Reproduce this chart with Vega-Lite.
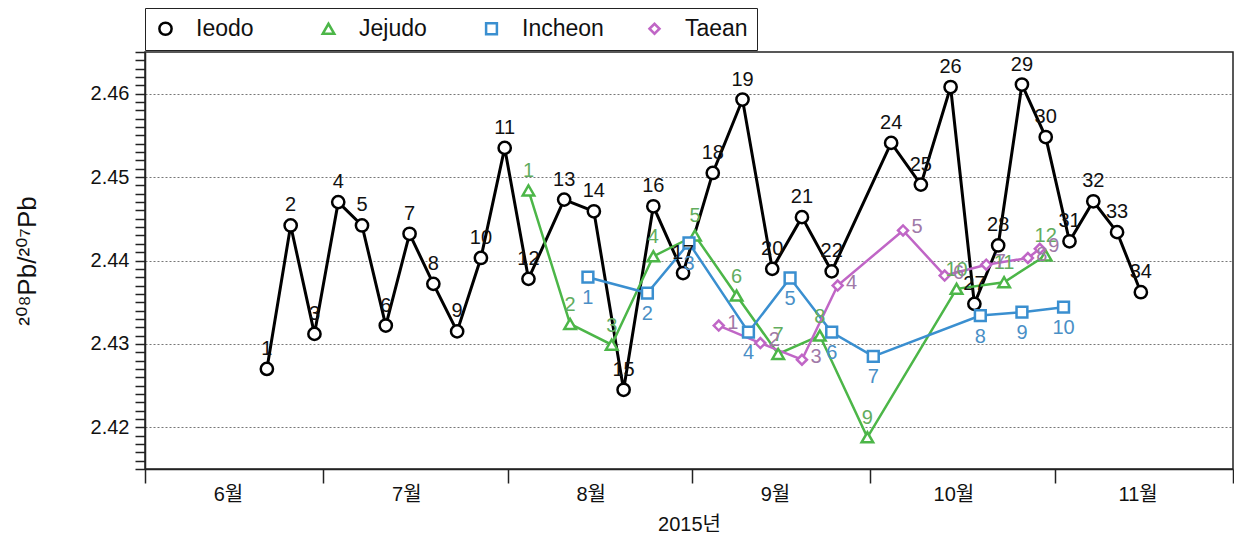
{
  "$schema": "https://vega.github.io/schema/vega-lite/v6.json",
  "width": 1088,
  "height": 417,
  "autosize": "none",
  "padding": {"left": 145, "top": 52, "right": 1, "bottom": 70},
  "background": "white",
  "config": {
    "font": "Liberation Sans, Noto Sans CJK KR, DejaVu Sans",
    "view": {"stroke": "#222", "strokeWidth": 1.5},
    "axis": {"labelFontSize": 20, "titleFontSize": 20, "labelColor": "#111", "titleColor": "#111", "titleFontWeight": "normal", "domainColor": "#222", "tickColor": "#222", "domainWidth": 1.5, "tickWidth": 1.5}
  },
  "data": {"values": [
    {"site": "Ieodo", "n": 1, "date": "2015-06-21T12:00:00Z", "v": 2.4270},
    {"site": "Ieodo", "n": 2, "date": "2015-06-25T12:00:00Z", "v": 2.4442},
    {"site": "Ieodo", "n": 3, "date": "2015-06-29T12:00:00Z", "v": 2.4312},
    {"site": "Ieodo", "n": 4, "date": "2015-07-03T12:00:00Z", "v": 2.4470},
    {"site": "Ieodo", "n": 5, "date": "2015-07-07T12:00:00Z", "v": 2.4442},
    {"site": "Ieodo", "n": 6, "date": "2015-07-11T12:00:00Z", "v": 2.4322},
    {"site": "Ieodo", "n": 7, "date": "2015-07-15T12:00:00Z", "v": 2.4432},
    {"site": "Ieodo", "n": 8, "date": "2015-07-19T12:00:00Z", "v": 2.4372},
    {"site": "Ieodo", "n": 9, "date": "2015-07-23T12:00:00Z", "v": 2.4315},
    {"site": "Ieodo", "n": 10, "date": "2015-07-27T12:00:00Z", "v": 2.4403},
    {"site": "Ieodo", "n": 11, "date": "2015-07-31T12:00:00Z", "v": 2.4535},
    {"site": "Ieodo", "n": 12, "date": "2015-08-04T12:00:00Z", "v": 2.4378},
    {"site": "Ieodo", "n": 13, "date": "2015-08-10T12:00:00Z", "v": 2.4473},
    {"site": "Ieodo", "n": 14, "date": "2015-08-15T12:00:00Z", "v": 2.4459},
    {"site": "Ieodo", "n": 15, "date": "2015-08-20T12:00:00Z", "v": 2.4245},
    {"site": "Ieodo", "n": 16, "date": "2015-08-25T12:00:00Z", "v": 2.4465},
    {"site": "Ieodo", "n": 17, "date": "2015-08-30T12:00:00Z", "v": 2.4385},
    {"site": "Ieodo", "n": 18, "date": "2015-09-04T12:00:00Z", "v": 2.4505},
    {"site": "Ieodo", "n": 19, "date": "2015-09-09T12:00:00Z", "v": 2.4593},
    {"site": "Ieodo", "n": 20, "date": "2015-09-14T12:00:00Z", "v": 2.4390},
    {"site": "Ieodo", "n": 21, "date": "2015-09-19T12:00:00Z", "v": 2.4452},
    {"site": "Ieodo", "n": 22, "date": "2015-09-24T12:00:00Z", "v": 2.4387},
    {"site": "Ieodo", "n": 24, "date": "2015-10-04T12:00:00Z", "v": 2.4541},
    {"site": "Ieodo", "n": 25, "date": "2015-10-09T12:00:00Z", "v": 2.4491},
    {"site": "Ieodo", "n": 26, "date": "2015-10-14T12:00:00Z", "v": 2.4608},
    {"site": "Ieodo", "n": 27, "date": "2015-10-18T12:00:00Z", "v": 2.4348},
    {"site": "Ieodo", "n": 28, "date": "2015-10-22T12:00:00Z", "v": 2.4418},
    {"site": "Ieodo", "n": 29, "date": "2015-10-26T12:00:00Z", "v": 2.4611},
    {"site": "Ieodo", "n": 30, "date": "2015-10-30T12:00:00Z", "v": 2.4548},
    {"site": "Ieodo", "n": 31, "date": "2015-11-03T12:00:00Z", "v": 2.4423},
    {"site": "Ieodo", "n": 32, "date": "2015-11-07T12:00:00Z", "v": 2.4471},
    {"site": "Ieodo", "n": 33, "date": "2015-11-11T12:00:00Z", "v": 2.4434},
    {"site": "Ieodo", "n": 34, "date": "2015-11-15T12:00:00Z", "v": 2.4362},
    {"site": "Jejudo", "n": 1, "date": "2015-08-04T12:00:00Z", "v": 2.4484},
    {"site": "Jejudo", "n": 2, "date": "2015-08-11T12:00:00Z", "v": 2.4324},
    {"site": "Jejudo", "n": 3, "date": "2015-08-18T12:00:00Z", "v": 2.4299},
    {"site": "Jejudo", "n": 4, "date": "2015-08-25T12:00:00Z", "v": 2.4405},
    {"site": "Jejudo", "n": 5, "date": "2015-09-01T12:00:00Z", "v": 2.4430},
    {"site": "Jejudo", "n": 6, "date": "2015-09-08T12:00:00Z", "v": 2.4358},
    {"site": "Jejudo", "n": 7, "date": "2015-09-15T12:00:00Z", "v": 2.4288},
    {"site": "Jejudo", "n": 8, "date": "2015-09-22T12:00:00Z", "v": 2.4310},
    {"site": "Jejudo", "n": 9, "date": "2015-09-30T12:00:00Z", "v": 2.4188},
    {"site": "Jejudo", "n": 10, "date": "2015-10-15T12:00:00Z", "v": 2.4366},
    {"site": "Jejudo", "n": 11, "date": "2015-10-23T12:00:00Z", "v": 2.4374},
    {"site": "Jejudo", "n": 12, "date": "2015-10-30T12:00:00Z", "v": 2.4406},
    {"site": "Incheon", "n": 1, "date": "2015-08-14T12:00:00Z", "v": 2.4380},
    {"site": "Incheon", "n": 2, "date": "2015-08-24T12:00:00Z", "v": 2.4361},
    {"site": "Incheon", "n": 3, "date": "2015-08-31T12:00:00Z", "v": 2.4421},
    {"site": "Incheon", "n": 4, "date": "2015-09-10T12:00:00Z", "v": 2.4314},
    {"site": "Incheon", "n": 5, "date": "2015-09-17T12:00:00Z", "v": 2.4379},
    {"site": "Incheon", "n": 6, "date": "2015-09-24T12:00:00Z", "v": 2.4314},
    {"site": "Incheon", "n": 7, "date": "2015-10-01T12:00:00Z", "v": 2.4285},
    {"site": "Incheon", "n": 8, "date": "2015-10-19T12:00:00Z", "v": 2.4334},
    {"site": "Incheon", "n": 9, "date": "2015-10-26T12:00:00Z", "v": 2.4338},
    {"site": "Incheon", "n": 10, "date": "2015-11-02T12:00:00Z", "v": 2.4344},
    {"site": "Taean", "n": 1, "date": "2015-09-05T12:00:00Z", "v": 2.4322},
    {"site": "Taean", "n": 2, "date": "2015-09-12T12:00:00Z", "v": 2.4301},
    {"site": "Taean", "n": 3, "date": "2015-09-19T12:00:00Z", "v": 2.4281},
    {"site": "Taean", "n": 4, "date": "2015-09-25T12:00:00Z", "v": 2.4370},
    {"site": "Taean", "n": 5, "date": "2015-10-06T12:00:00Z", "v": 2.4436},
    {"site": "Taean", "n": 6, "date": "2015-10-13T12:00:00Z", "v": 2.4382},
    {"site": "Taean", "n": 7, "date": "2015-10-20T12:00:00Z", "v": 2.4395},
    {"site": "Taean", "n": 8, "date": "2015-10-27T12:00:00Z", "v": 2.4403},
    {"site": "Taean", "n": 9, "date": "2015-10-29T12:00:00Z", "v": 2.4414}
  ]},
  "layer": [
    {
      "mark": {"type": "line"},
      "encoding": {
        "x": {
          "field": "date", "type": "temporal",
          "scale": {"type": "utc", "domain": [{"year": 2015, "month": 6, "date": 1, "utc": true}, {"year": 2015, "month": 12, "date": 1, "utc": true}]},
          "axis": {
            "title": "2015년", "titlePadding": 10, "grid": false,
            "values": [
              {"year": 2015, "month": 6, "date": 1, "utc": true},
              {"year": 2015, "month": 7, "date": 1, "utc": true},
              {"year": 2015, "month": 8, "date": 1, "utc": true},
              {"year": 2015, "month": 9, "date": 1, "utc": true},
              {"year": 2015, "month": 10, "date": 1, "utc": true},
              {"year": 2015, "month": 11, "date": 1, "utc": true},
              {"year": 2015, "month": 12, "date": 1, "utc": true}
            ],
            "tickCount": 20,
            "labelExpr": "utcFormat(datum.value, '%m') == '12' ? '' : utcFormat(datum.value, '%-m') + '월'",
            "labelOffset": 83, "labelFlush": false, "labelOverlap": false, "labelBound": false,
            "tickSize": 14, "labelPadding": 1
          }
        },
        "y": {
          "field": "v", "type": "quantitative",
          "scale": {"domain": [2.415, 2.465], "nice": false, "zero": false},
          "axis": {
            "title": "²⁰⁸Pb/²⁰⁷Pb", "titlePadding": 50, "titleFontSize": 26,
            "values": [2.415,2.416,2.417,2.418,2.419,2.42,2.421,2.422,2.423,2.424,2.425,2.426,2.427,2.428,2.429,2.43,2.431,2.432,2.433,2.434,2.435,2.436,2.437,2.438,2.439,2.44,2.441,2.442,2.443,2.444,2.445,2.446,2.447,2.448,2.449,2.45,2.451,2.452,2.453,2.454,2.455,2.456,2.457,2.458,2.459,2.46,2.461,2.462,2.463,2.464,2.465],
            "tickCount": 200,
            "labelExpr": "abs(datum.value*100 - round(datum.value*100)) < 0.01 ? format(datum.value, '.2f') : ''",
            "labelOverlap": false, "labelPadding": 6, "tickSize": 10,
            "grid": true, "gridDash": [2, 2], "gridColor": "#777", "gridWidth": 1,
            "gridOpacity": {"condition": {"test": "abs(datum.value*100 - round(datum.value*100)) < 0.01 && datum.value < 2.4645", "value": 1}, "value": 0},
            "encode": {
              "ticks": {"x2": {"value": {"expr": "abs(datum.value*100 - round(datum.value*100)) < 0.01 ? -10 : -5"}}}
            }
          }
        },
        "color": {"field": "site", "type": "nominal", "scale": {"domain": ["Ieodo", "Jejudo", "Incheon", "Taean"], "range": ["#000000", "#4cb648", "#3a8fd0", "#c066c6"]}},
        "strokeWidth": {"condition": {"test": "datum.site === 'Ieodo'", "value": 3}, "value": 2.5}
      }
    },
    {
      "mark": {"type": "point", "filled": false, "fill": "white", "fillOpacity": 1, "opacity": 1, "strokeWidth": 2.5},
      "encoding": {
        "x": {"field": "date", "type": "temporal"},
        "y": {"field": "v", "type": "quantitative"},
        "color": {
          "field": "site", "type": "nominal",
          "legend": {
            "orient": "none", "legendX": 0, "legendY": -44, "direction": "horizontal", "columns": 4, "gridAlign": "all",
            "title": null, "strokeColor": "#222", "fillColor": "white", "padding": 9,
            "labelFontSize": 23, "labelOffset": 19, "columnPadding": 39, "labelLimit": 300, "labelColor": "#111",
            "symbolSize": 144, "symbolStrokeWidth": 2.5, "symbolFillColor": "white"
          }
        },
        "shape": {"field": "site", "type": "nominal", "scale": {"domain": ["Ieodo", "Jejudo", "Incheon", "Taean"], "range": ["circle", "triangle-up", "square", "diamond"]}, "legend": null},
        "size": {"field": "site", "type": "nominal", "scale": {"domain": ["Ieodo", "Jejudo", "Incheon", "Taean"], "range": [150, 100, 160, 70]}, "legend": null}
      }
    },
    {
      "transform": [{"filter": "datum.site === 'Ieodo'"}],
      "mark": {"type": "text", "fontSize": 20, "dy": -20, "color": "#111"},
      "encoding": {"x": {"field": "date", "type": "temporal"}, "y": {"field": "v", "type": "quantitative"}, "text": {"field": "n", "type": "nominal"}}
    },
    {
      "transform": [{"filter": "datum.site === 'Jejudo'"}],
      "mark": {"type": "text", "fontSize": 20, "dy": -19, "color": "#62ad5e"},
      "encoding": {"x": {"field": "date", "type": "temporal"}, "y": {"field": "v", "type": "quantitative"}, "text": {"field": "n", "type": "nominal"}}
    },
    {
      "transform": [{"filter": "datum.site === 'Incheon'"}],
      "mark": {"type": "text", "fontSize": 20, "dy": 21, "color": "#4a8fc6"},
      "encoding": {"x": {"field": "date", "type": "temporal"}, "y": {"field": "v", "type": "quantitative"}, "text": {"field": "n", "type": "nominal"}}
    },
    {
      "transform": [{"filter": "datum.site === 'Taean'"}],
      "mark": {"type": "text", "fontSize": 20, "dx": 14, "dy": -3, "color": "#a079a8"},
      "encoding": {"x": {"field": "date", "type": "temporal"}, "y": {"field": "v", "type": "quantitative"}, "text": {"field": "n", "type": "nominal"}}
    }
  ]
}
